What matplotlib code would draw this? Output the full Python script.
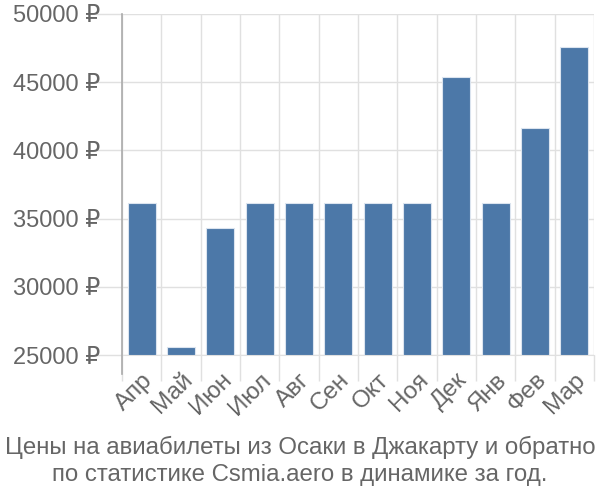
import matplotlib
matplotlib.use("Agg")
import matplotlib.pyplot as plt
import numpy as np

months = ["Апр", "Май", "Июн", "Июл", "Авг", "Сен", "Окт", "Ноя", "Дек", "Янв", "Фев", "Мар"]
prices = [36166, 25565, 34311, 36166, 36166, 36166, 36166, 36166, 45403, 36166, 41620, 47603]
yticks = [25000, 30000, 35000, 40000, 45000, 50000]
title = "Цены на авиабилеты из Осаки в Джакарту и обратно\nпо статистике Csmia.aero в динамике за год."

plt.rcParams['font.family'] = ['Liberation Sans', 'DejaVu Sans']

fig = plt.figure(figsize=(6, 5), dpi=100)
ax = fig.add_axes([122/600, 1 - 355/500, (594-122)/600, (355-14)/500])

x = np.arange(len(months))
ax.bar(x, np.array(prices) - 25000, bottom=25000, width=0.72, color="#4c78a8",
       edgecolor="#dbe4ef", linewidth=0.8, zorder=3)

ax.set_xlim(-0.5, len(months) - 0.5)
ax.set_ylim(25000, 50000)
ax.set_yticks(yticks)
ax.set_yticklabels([f"{v} ₽" for v in yticks])
ax.set_xticks(x)
ax.set_xticklabels(months, rotation=45, ha="right", rotation_mode="anchor")

ax.set_xticks(np.arange(len(months) + 1) - 0.5, minor=True)
ax.grid(True, which="minor", axis="x", color="#e0e0e0", linewidth=1, zorder=0)
ax.grid(True, which="major", axis="y", color="#e0e0e0", linewidth=1, zorder=0)
ax.tick_params(axis="x", which="major", length=0, pad=10, labelsize=17.5, labelcolor="#666666")
ax.tick_params(axis="x", which="minor", length=19, color="#e0e0e0", width=1)
ax.tick_params(axis="y", length=19, color="#e0e0e0", width=1, labelsize=17, labelcolor="#666666", pad=-3)

for s in ["top", "right", "left"]:
    ax.spines[s].set_visible(False)
ax.spines["bottom"].set_color("#e0e0e0")
ax.axvline(-0.5, ymin=-19/341, ymax=1, color="#aaaaaa", linewidth=1.2, clip_on=False, zorder=4)

fig.text(0.5, 1 - 461/500, title, ha="center", va="center", fontsize=17.3,
         color="#666666", linespacing=1.3)

fig.savefig("out.png", dpi=100)
